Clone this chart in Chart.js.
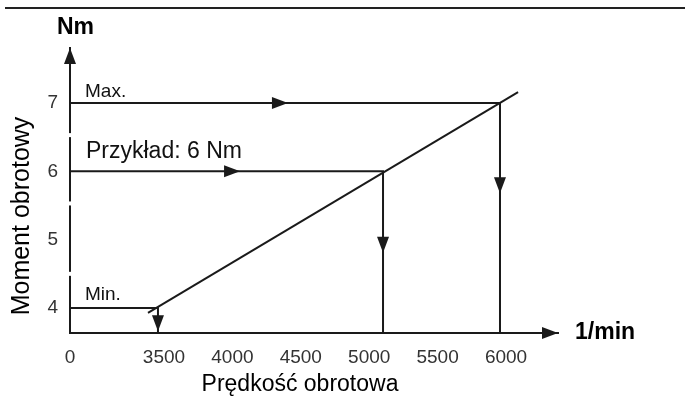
<!DOCTYPE html>
<html>
<head>
<meta charset="utf-8">
<script src="https://cdn.jsdelivr.net/npm/chart.js"></script>
<style>
    body { margin: 0; background: #fff; }
</style>
</head>
<body>
<canvas id="myChart" width="685" height="409"></canvas>
<script>
//------------------------------------ les donnees --------------------------------------------------//
const levelNames = ['Max.', 'Przykład: 6 Nm', 'Min.'];
const levelTorque = [7, 6, 4];
const levelSpeed = [5956, 5101, 3456];
const flowArrowSpeed = [4406, 4056, null];
const dropArrowTorque = [5.68, 4.81, 3.66];

const curveSpeed = [3383, 6088];
const curveTorque = [3.93, 7.16];

const speedAxis = [2813, 6380];
const torqueAxis = [3.634, 7.805];

const xTickValues = [2813, 3500, 4000, 4500, 5000, 5500, 6000];
const xTickLabels = ['0', '3500', '4000', '4500', '5000', '5500', '6000'];
const yTickValues = [4, 5, 6, 7];
const yGapValues = [6.53, 5.53, 4.5];
//--------------------------------------------------------------------------------------------------//

const ink = '#1a1a1a';
const font = 'Liberation Sans, Arial, sans-serif';

var datasets = [];
for (var i = 0; i < levelTorque.length; i++) {
    datasets.push({
        data: [
            { x: speedAxis[0], y: levelTorque[i] },
            { x: levelSpeed[i], y: levelTorque[i] },
            { x: levelSpeed[i], y: torqueAxis[0] }
        ]
    });
}
datasets.push({
    data: curveSpeed.map((s, i) => ({ x: s, y: curveTorque[i] }))
});
datasets.forEach(d => {
    d.showLine = true;
    d.borderColor = ink;
    d.borderWidth = 2;
    d.pointRadius = 0;
    d.fill = false;
});

function arrowHead(ctx, x, y, dir) {
    var len = 16, half = 6;
    ctx.beginPath();
    if (dir === 'right') {
        ctx.moveTo(x, y); ctx.lineTo(x - len, y - half); ctx.lineTo(x - len, y + half);
    } else if (dir === 'down') {
        ctx.moveTo(x, y); ctx.lineTo(x - half, y - len); ctx.lineTo(x + half, y - len);
    } else {
        ctx.moveTo(x, y); ctx.lineTo(x - half, y + len); ctx.lineTo(x + half, y + len);
    }
    ctx.closePath();
    ctx.fill();
}

// ---------------------------------- fleches, textes, axes ---------------------------------//
const decor = {
    id: 'decor',
    afterDraw(chart) {
        var ctx = chart.ctx;
        var xs = chart.scales.x, ys = chart.scales.y, area = chart.chartArea;
        ctx.save();
        ctx.fillStyle = ink;
        ctx.strokeStyle = '#222';

        // ligne en haut
        ctx.lineWidth = 2;
        ctx.beginPath();
        ctx.moveTo(5, 8);
        ctx.lineTo(685, 8);
        ctx.stroke();

        // coupures de l'axe y
        ctx.fillStyle = '#fff';
        yGapValues.forEach(v => {
            ctx.fillRect(area.left - 3, ys.getPixelForValue(v) - 2, 6, 4);
        });
        ctx.fillStyle = ink;

        // fleches des axes
        arrowHead(ctx, area.left, area.top, 'up');
        arrowHead(ctx, area.right, area.bottom, 'right');

        // fleches sur les lignes
        for (var i = 0; i < levelTorque.length; i++) {
            if (flowArrowSpeed[i] !== null) {
                arrowHead(ctx, xs.getPixelForValue(flowArrowSpeed[i]), ys.getPixelForValue(levelTorque[i]), 'right');
            }
            arrowHead(ctx, xs.getPixelForValue(levelSpeed[i]), ys.getPixelForValue(dropArrowTorque[i]), 'down');
        }

        // textes des niveaux
        ctx.fillStyle = '#111';
        ctx.textBaseline = 'middle';
        ctx.textAlign = 'left';
        var x0 = xs.getPixelForValue(speedAxis[0]);
        ctx.font = '19px ' + font;
        ctx.fillText(levelNames[0], x0 + 15, ys.getPixelForValue(levelTorque[0]) - 11);
        ctx.fillText(levelNames[2], x0 + 15, ys.getPixelForValue(levelTorque[2]) - 13);
        ctx.font = '23px ' + font;
        ctx.fillText(levelNames[1], x0 + 16, ys.getPixelForValue(levelTorque[1]) - 20);

        // unites
        ctx.fillStyle = '#000';
        ctx.font = 'bold 23px ' + font;
        ctx.fillText('Nm', 57, 28);
        ctx.fillText('1/min', area.right + 17, area.bottom);

        // titres des axes
        ctx.font = '23px ' + font;
        ctx.textAlign = 'center';
        ctx.fillText('Prędkość obrotowa', 300, 385);
        ctx.font = '25px ' + font;
        ctx.translate(22, 216);
        ctx.rotate(-Math.PI / 2);
        ctx.fillText('Moment obrotowy', 0, 0);
        ctx.restore();
    }
};

const ctx = document.getElementById('myChart').getContext('2d');
const myChart = new Chart(ctx, {
    type: 'scatter',
    data: { datasets: datasets },
    options: {
        responsive: false,
        animation: false,
        layout: { padding: { top: 48, right: 127, left: 0, bottom: 0 } },
        plugins: {
            legend: { display: false },
            tooltip: { enabled: false }
        },
        scales: {
            x: {
                type: 'linear',
                min: speedAxis[0],
                max: speedAxis[1],
                afterBuildTicks: (s) => { s.ticks = xTickValues.map(v => ({ value: v })); },
                afterFit: (s) => { s.height = 76; },
                grid: { display: false, drawTicks: false },
                border: { display: true, color: ink, width: 2 },
                ticks: {
                    autoSkip: false,
                    maxRotation: 0,
                    padding: 13,
                    color: '#333',
                    font: { family: font, size: 19 },
                    callback: (v, i) => xTickLabels[i]
                }
            },
            y: {
                type: 'linear',
                min: torqueAxis[0],
                max: torqueAxis[1],
                afterBuildTicks: (s) => { s.ticks = yTickValues.map(v => ({ value: v })); },
                afterFit: (s) => { s.width = 70; },
                grid: { display: false, drawTicks: false },
                border: { display: true, color: ink, width: 2 },
                ticks: {
                    autoSkip: false,
                    padding: 12,
                    color: '#333',
                    font: { family: font, size: 19 },
                    callback: (v) => String(v)
                }
            }
        }
    },
    plugins: [decor]
});
</script>
</body>
</html>
